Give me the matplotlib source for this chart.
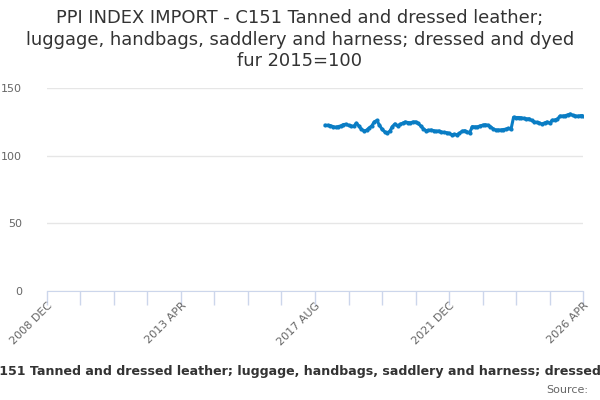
import numpy as np
import pandas as pd
import matplotlib
matplotlib.use("Agg")
import matplotlib.pyplot as plt


TITLE = ("PPI INDEX IMPORT - C151 Tanned and dressed leather;\n"
         "luggage, handbags, saddlery and harness; dressed and dyed\n"
         "fur 2015=100")
SERIES_NAME = ("C151 Tanned and dressed leather; luggage, handbags, saddlery "
               "and harness; dressed and dyed fur 2015=100")

# monthly categories 2008 DEC .. 2026 APR
months = pd.period_range("2008-12", "2026-04", freq="M")
categories = [f"{p.year} {p.strftime('%b').upper()}" for p in months]

# values, 2017 DEC .. 2026 APR
series_start = "2017 DEC"
values = [
    122.4, 122.4, 122.2, 121.5, 121.0, 121.5, 122.0, 123.0, 123.2, 122.4,
    122.0, 121.6, 124.0, 122.0, 119.5, 118.3, 118.8, 120.5, 122.0, 125.0,
    126.0, 122.5, 119.5, 117.7, 117.0, 118.0, 121.5, 123.5, 122.0, 123.2,
    124.0, 124.9, 124.5, 124.3, 124.9, 125.0, 123.8, 122.0, 120.0, 118.5,
    118.7, 119.0, 118.5, 118.0, 118.3, 117.5, 117.2, 117.0, 116.5, 115.5,
    115.8, 115.5, 116.5, 118.0, 118.5, 117.5, 117.0, 121.5, 121.3, 121.3,
    122.0, 122.5, 122.9, 122.5, 121.5, 120.0, 119.0, 119.0, 119.0, 119.3,
    119.6, 120.2, 119.5, 128.4, 128.2, 128.2, 128.0, 127.5, 127.2, 127.3,
    126.0, 125.0, 124.6, 124.2, 123.4, 124.2, 124.9, 124.0, 126.2, 126.4,
    127.0, 129.3, 129.3, 129.5, 130.2, 130.8, 129.7, 129.4, 129.2, 129.6,
    129.6,
]
y_ticks = [0, 50, 100, 150]


def main() -> None:
    plt.rcParams["font.family"] = "DejaVu Sans"
    fig = plt.figure(figsize=(6, 4), dpi=100)
    ax = fig.add_axes([0.078, 0.2725, 0.894, 0.5075])

    start = categories.index(series_start)
    x = np.arange(start, start + len(values))
    ax.plot(x, values, color="#0a7dc4", lw=2.2, marker="o", ms=2.0,
            solid_joinstyle="round")

    ax.set_xlim(0, len(categories) - 1)
    ax.set_ylim(0, 150)
    ax.set_yticks(y_ticks)
    ax.grid(axis="y", color="#e6e6e6", lw=1)
    ax.set_axisbelow(True)

    tick_pos = np.arange(0, len(categories), 13)
    ax.set_xticks(tick_pos)
    ax.set_xticklabels([categories[i] if k % 4 == 0 else ""
                        for k, i in enumerate(tick_pos)],
                       rotation=45, ha="right", rotation_mode="anchor")

    for side in ["top", "right", "left"]:
        ax.spines[side].set_visible(False)
    ax.spines["bottom"].set_color("#ccd6eb")
    ax.tick_params(axis="x", colors="#ccd6eb", length=10, width=1,
                   labelcolor="#666666", labelsize=8, pad=-3)
    ax.tick_params(axis="y", length=0, labelcolor="#666666", labelsize=8,
                   pad=18)

    fig.text(0.5, 0.978, TITLE, ha="center", va="top", fontsize=12.9,
             color="#333333", linespacing=1.27)
    fig.text(-0.016, 0.07, SERIES_NAME, ha="left", va="center",
             fontsize=9.1, fontweight="bold", color="#333333")
    fig.text(0.98, 0.025, "Source:", ha="right", va="center",
             fontsize=8, color="#666666")

    fig.savefig("out.png", dpi=100)
    plt.close(fig)


if __name__ == "__main__":
    main()
